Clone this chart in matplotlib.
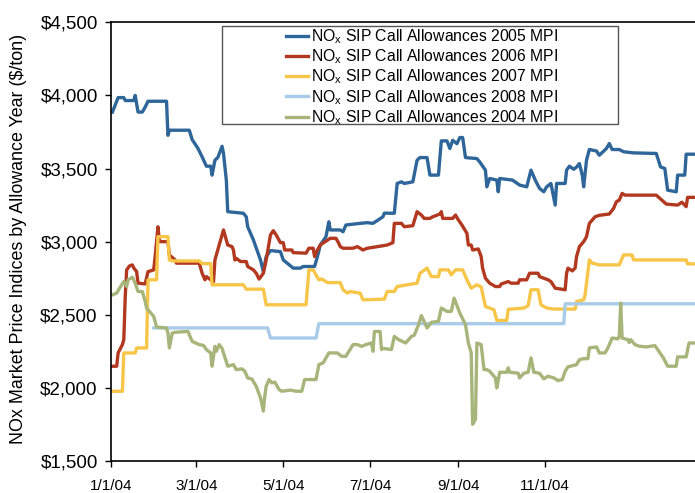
import numpy as np
import matplotlib
matplotlib.use("Agg")
import matplotlib.pyplot as plt
import matplotlib.dates as mdates
from matplotlib.ticker import FuncFormatter
from matplotlib.patches import Rectangle

plt.rcParams['font.family'] = ['Liberation Sans', 'DejaVu Sans']
plt.rcParams['mathtext.fontset'] = 'custom'
plt.rcParams['mathtext.rm'] = 'Liberation Sans'

# ---- data: days since 2004-01-01, price ($/ton) ----
days_2005 = [1, 5, 9, 10, 16, 17, 19, 22, 24, 26, 39, 40, 41, 55, 57, 61, 64, 67, 70, 71, 73, 75, 78, 79,
             81, 82, 93, 95, 96, 100, 105, 107, 109, 112, 119, 121, 128, 133, 135, 143, 145, 147, 151, 153,
             154, 161, 163, 165, 175, 180, 184, 191, 192, 199, 201, 204, 206, 212, 215, 217, 222, 224, 230,
             232, 236, 238, 240, 243, 245, 247, 249, 257, 259, 263, 264, 266, 271, 272, 273, 282, 287, 292,
             295, 298, 301, 304, 306, 309, 312, 313, 319, 320, 322, 325, 327, 329, 331, 332, 334, 336, 341,
             343, 348, 350, 352, 357, 360, 367, 383, 386, 389, 391, 397, 398, 403, 404, 410]
vals_2005 = [3886, 3985, 3985, 3965, 3965, 4000, 3886, 3886, 3920, 3960, 3960, 3727, 3762, 3762, 3698, 3639,
             3580, 3516, 3516, 3455, 3557, 3575, 3652, 3605, 3421, 3205, 3194, 3170, 3102, 3012, 2875, 2795,
             2898, 2939, 2932, 2875, 2819, 2819, 2830, 2830, 2898, 2977, 3034, 3136, 3080, 3080, 3068, 3114,
             3125, 3130, 3125, 3170, 3195, 3194, 3398, 3409, 3398, 3409, 3557, 3575, 3575, 3455, 3455, 3689,
             3689, 3637, 3693, 3670, 3712, 3712, 3575, 3568, 3545, 3489, 3375, 3432, 3421, 3341, 3432, 3421,
             3387, 3375, 3489, 3421, 3364, 3341, 3375, 3398, 3250, 3398, 3398, 3489, 3516, 3495, 3510, 3534,
             3455, 3375, 3557, 3630, 3620, 3591, 3637, 3671, 3630, 3630, 3615, 3607, 3603, 3511, 3500, 3352,
             3341, 3455, 3455, 3598, 3598]

days_2006 = [1, 4, 5, 8, 9, 10, 11, 13, 15, 16, 18, 19, 24, 26, 30, 31, 33, 34, 40, 41, 45, 46, 62, 64, 66,
             67, 70, 71, 72, 73, 75, 79, 82, 85, 86, 87, 88, 91, 95, 96, 100, 102, 104, 107, 109, 112, 114,
             116, 119, 121, 122, 127, 128, 137, 139, 142, 143, 145, 147, 154, 158, 160, 161, 163, 170, 173,
             177, 180, 184, 194, 198, 199, 204, 206, 212, 215, 218, 220, 224, 226, 231, 232, 233, 240, 242,
             244, 246, 250, 251, 253, 254, 258, 259, 260, 261, 263, 266, 270, 273, 274, 279, 281, 286, 287,
             292, 294, 300, 301, 304, 307, 309, 312, 319, 320, 321, 324, 326, 327, 329, 332, 334, 336, 340,
             343, 350, 353, 355, 357, 359, 361, 383, 390, 398, 401, 404, 405, 410]
vals_2006 = [2148, 2148, 2239, 2296, 2330, 2625, 2807, 2834, 2841, 2820, 2795, 2716, 2711, 2795, 2807, 2898,
             3102, 3000, 3000, 2909, 2875, 2853, 2853, 2784, 2739, 2761, 2739, 2761, 2727, 2875, 2943, 3080,
             2977, 2966, 2943, 2875, 2886, 2864, 2864, 2830, 2807, 2784, 2744, 2784, 2875, 3046, 3075, 3046,
             2993, 2993, 2943, 2943, 2925, 2921, 2955, 2955, 2898, 2943, 2977, 3023, 3023, 2989, 2966, 2955,
             2955, 2966, 2943, 2955, 2961, 2977, 2993, 3125, 3125, 3102, 3109, 3205, 3182, 3159, 3159, 3170,
             3189, 3205, 3159, 3159, 3182, 3148, 3121, 3057, 2977, 2977, 2943, 2950, 2925, 2898, 2819, 2750,
             2716, 2693, 2693, 2710, 2727, 2716, 2716, 2739, 2739, 2784, 2784, 2761, 2750, 2739, 2727, 2682,
             2671, 2784, 2819, 2800, 2819, 2898, 2966, 3000, 3034, 3125, 3170, 3180, 3189, 3227, 3273, 3284,
             3330, 3318, 3318, 3257, 3250, 3270, 3239, 3303, 3303]

days_2007 = [1, 8, 9, 17, 18, 25, 26, 32, 33, 40, 41, 44, 62, 64, 70, 71, 93, 95, 107, 109, 137, 139, 142,
             146, 148, 152, 161, 163, 166, 168, 175, 177, 192, 194, 199, 201, 208, 215, 217, 222, 225, 230,
             231, 237, 239, 242, 247, 250, 253, 257, 260, 263, 269, 271, 278, 279, 290, 293, 295, 300, 302,
             306, 311, 326, 327, 332, 333, 336, 338, 343, 357, 360, 366, 367, 404, 405, 410]
vals_2007 = [1977, 1977, 2239, 2239, 2273, 2273, 2739, 2739, 3034, 3034, 2875, 2868, 2868, 2850, 2850, 2705,
             2705, 2675, 2675, 2568, 2568, 2807, 2807, 2739, 2745, 2720, 2720, 2671, 2648, 2659, 2648, 2602,
             2607, 2659, 2659, 2693, 2705, 2716, 2784, 2819, 2761, 2761, 2807, 2807, 2773, 2807, 2807, 2739,
             2682, 2705, 2690, 2557, 2534, 2461, 2461, 2537, 2546, 2562, 2671, 2671, 2568, 2546, 2539, 2539,
             2591, 2602, 2636, 2875, 2853, 2841, 2841, 2909, 2909, 2875, 2875, 2848, 2848]

days_2008 = [30, 110, 112, 144, 146, 318, 319, 410]
vals_2008 = [2410, 2410, 2341, 2341, 2439, 2439, 2575, 2575]

days_2004 = [1, 4, 6, 9, 11, 12, 15, 17, 19, 22, 24, 25, 27, 30, 32, 39, 40, 41, 43, 45, 54, 57, 62, 65, 67,
             70, 71, 73, 74, 76, 78, 82, 86, 88, 92, 94, 96, 99, 102, 105, 107, 108, 109, 111, 113, 115, 118,
             120, 126, 130, 134, 136, 144, 146, 149, 153, 159, 162, 165, 170, 173, 176, 179, 183, 184, 185,
             189, 190, 191, 197, 199, 202, 207, 211, 213, 216, 218, 222, 225, 230, 232, 236, 239, 241, 245,
             249, 251, 253, 254, 256, 257, 260, 262, 264, 266, 270, 271, 273, 278, 279, 280, 286, 287, 290,
             293, 295, 297, 301, 304, 307, 311, 314, 317, 319, 321, 327, 329, 332, 335, 336, 341, 343, 347,
             349, 352, 356, 357, 358, 359, 363, 364, 365, 368, 371, 376, 382, 384, 388, 391, 397, 398, 404,
             406, 410]
vals_2004 = [2636, 2648, 2682, 2727, 2693, 2739, 2757, 2716, 2659, 2659, 2591, 2546, 2523, 2489, 2416, 2410,
             2375, 2273, 2375, 2380, 2386, 2318, 2296, 2290, 2262, 2239, 2148, 2284, 2250, 2296, 2270, 2148,
             2159, 2125, 2130, 2114, 2068, 2060, 2011, 1932, 1841, 1943, 2011, 2057, 2034, 2040, 1989, 1977,
             1985, 1977, 1977, 2057, 2057, 2159, 2171, 2239, 2239, 2216, 2216, 2296, 2296, 2284, 2296, 2307,
             2250, 2386, 2386, 2262, 2270, 2262, 2352, 2330, 2307, 2352, 2360, 2432, 2494, 2410, 2448, 2455,
             2546, 2523, 2523, 2614, 2512, 2432, 2307, 2239, 1751, 1784, 2307, 2296, 2125, 2125, 2114, 2068,
             2000, 2107, 2107, 2137, 2107, 2100, 2068, 2100, 2107, 2205, 2107, 2100, 2062, 2080, 2068, 2050,
             2057, 2114, 2144, 2159, 2193, 2200, 2200, 2273, 2280, 2239, 2239, 2273, 2341, 2335, 2352, 2580,
             2341, 2330, 2310, 2330, 2296, 2285, 2280, 2289, 2262, 2205, 2148, 2148, 2212, 2212, 2307, 2307]

labels = ["NO$_\\mathrm{x}$ SIP Call Allowances 2005 MPI",
          "NO$_\\mathrm{x}$ SIP Call Allowances 2006 MPI",
          "NO$_\\mathrm{x}$ SIP Call Allowances 2007 MPI",
          "NO$_\\mathrm{x}$ SIP Call Allowances 2008 MPI",
          "NO$_\\mathrm{x}$ SIP Call Allowances 2004 MPI"]
colors = ["#2E6699", "#B2381F", "#F7C548", "#A9CBEA", "#A8B57A"]
series = [(days_2005, vals_2005), (days_2006, vals_2006), (days_2007, vals_2007),
          (days_2008, vals_2008), (days_2004, vals_2004)]

tick_dates = ["2004-01-01", "2004-03-01", "2004-05-01", "2004-07-01", "2004-09-01", "2004-11-01"]
y_ticks = [1500, 2000, 2500, 3000, 3500, 4000, 4500]

base = np.datetime64("2004-01-01")

def to_dates(d):
    return base + np.array(d, dtype="timedelta64[D]")

fig = plt.figure(figsize=(6.95, 4.93), dpi=100)
ax = fig.add_axes([111/695, 1 - 461/493, 1 - 111/695, (461 - 22.3)/493])

for (d, v), c, lab in zip(series, colors, labels):
    ax.plot(to_dates(d), v, color=c, lw=2.4, label=lab, solid_joinstyle='round')

x0 = mdates.date2num(base)
ax.set_xlim(x0, x0 + 410.2)
ax.set_ylim(1500, 4500)
ax.set_yticks(y_ticks)
ax.yaxis.set_major_formatter(FuncFormatter(lambda v, p: f"${v:,.0f}"))
ax.set_xticks([mdates.date2num(np.datetime64(t)) for t in tick_dates])

def fmt_date(x, p):
    d = mdates.num2date(x)
    return f"{d.month}/{d.day}/{d:%y}"

ax.xaxis.set_major_formatter(FuncFormatter(fmt_date))
ax.tick_params(axis='y', direction='out', length=4, width=1, labelsize=13.5, pad=5.5)
ax.tick_params(axis='x', direction='out', length=4, width=1, labelsize=11, pad=9)
for s in ['left', 'bottom', 'top']:
    ax.spines[s].set_linewidth(1.2)
    ax.spines[s].set_color('black')
ax.spines['right'].set_visible(False)

ax.set_ylabel("NOx Market Price Indices by Allowance Year ($/ton)", fontsize=12.9)
ax.yaxis.set_label_coords(-0.144, 0.506)

rect = Rectangle((221.7/695, 1 - 124.3/493), (617.7 - 221.7)/695, (124.3 - 25.7)/493,
                 transform=fig.transFigure, facecolor='white', edgecolor='#555555', lw=1.0,
                 zorder=4, clip_on=False)
ax.add_patch(rect)
leg = ax.legend(loc='upper left', bbox_to_anchor=(286/695, 1 - 27/493), bbox_transform=fig.transFigure,
                frameon=False, fontsize=11.3, handlelength=1.4, handletextpad=0.2, labelspacing=0.1,
                borderpad=0, borderaxespad=0)
leg.set_zorder(6)

fig.savefig("out.png", dpi=100)
